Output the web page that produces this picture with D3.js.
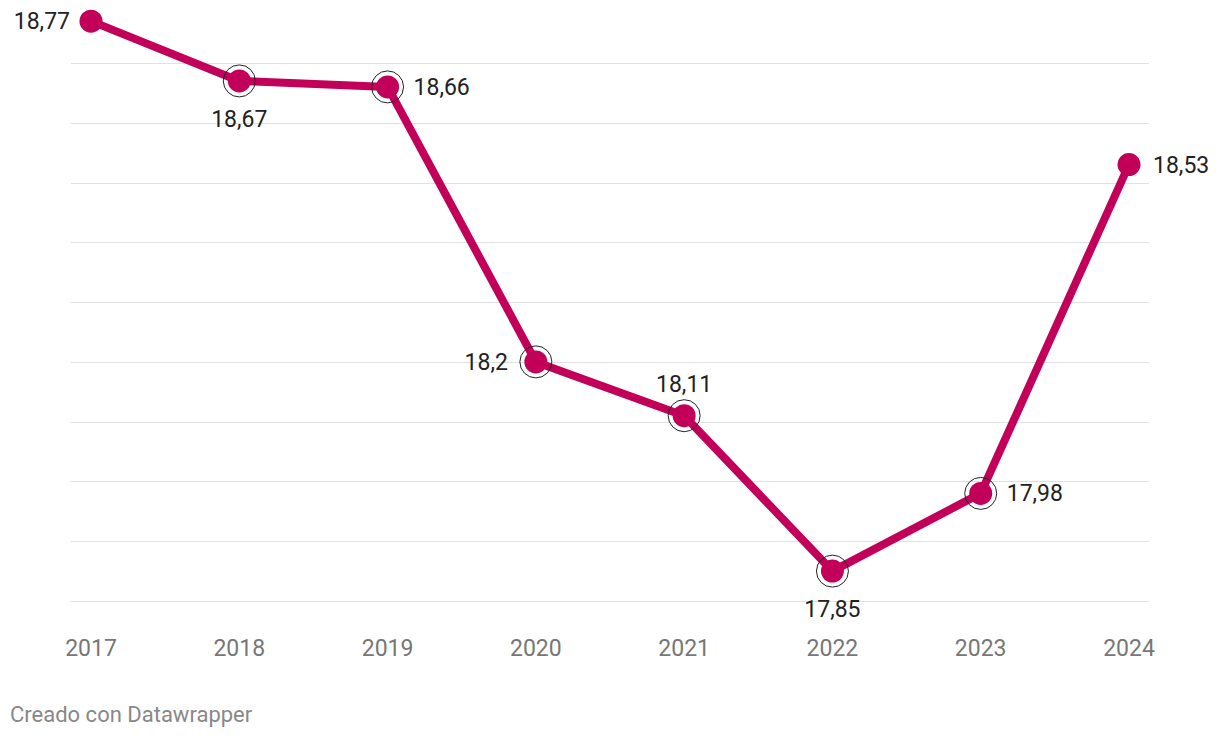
<!DOCTYPE html>
<html><head><meta charset="utf-8">
<script src="https://cdn.jsdelivr.net/npm/d3@7"></script>
<style>body{margin:0;background:#fff;font-family:Roboto,sans-serif}</style>
</head><body><svg id="c" width="1220" height="738"></svg>
<script>
const years = ["2017","2018","2019","2020","2021","2022","2023","2024"];
const values = [18.77, 18.67, 18.66, 18.2, 18.11, 17.85, 17.98, 18.53];
const labelPos = ["left","below","right","left","above","below","right","right"];
const ringed = [false,true,true,true,true,true,true,false];
const gridTicks = [17.8,17.9,18.0,18.1,18.2,18.3,18.4,18.5,18.6,18.7];

const svg = d3.select("#c");
const x = d3.scalePoint().domain(years).range([91,1129]);
const y = d3.scaleLinear().domain([17.8,18.7]).range([601,63]);
const color = "#c2005a";

svg.append("g").selectAll("line").data(gridTicks).join("line")
  .attr("x1",71).attr("x2",1149).attr("y1",d=>Math.round(y(d))+0.5).attr("y2",d=>Math.round(y(d))+0.5)
  .attr("stroke","#e1e1e1").attr("stroke-width",1);

svg.append("g").selectAll("text").data(years).join("text")
  .attr("x",d=>x(d)).attr("y",656).attr("text-anchor","middle")
  .attr("font-size",23).attr("fill","#777").text(d=>d);

const data = years.map((yr,i)=>({yr,v:values[i],pos:labelPos[i],ring:ringed[i]}));
svg.append("path").datum(data)
  .attr("d",d3.line().x(d=>x(d.yr)).y(d=>y(d.v)))
  .attr("fill","none").attr("stroke",color).attr("stroke-width",8).attr("stroke-linejoin","round");

svg.append("g").selectAll("circle").data(data.filter(d=>d.ring)).join("circle")
  .attr("cx",d=>x(d.yr)).attr("cy",d=>y(d.v)).attr("r",16)
  .attr("fill","none").attr("stroke","#222").attr("stroke-width",1);
svg.append("g").selectAll("circle").data(data).join("circle")
  .attr("cx",d=>x(d.yr)).attr("cy",d=>y(d.v)).attr("r",11.5).attr("fill",color);

const fmt = v => String(v).replace(".",",");
svg.append("g").selectAll("text").data(data).join("text")
  .attr("x",d=> d.pos==="left"? x(d.yr)-(d.ring?28:21) : d.pos==="right"? x(d.yr)+(d.ring?26:24) : x(d.yr))
  .attr("y",d=> d.pos==="below"? y(d.v)+46 : d.pos==="above"? y(d.v)-24 : y(d.v)+8)
  .attr("text-anchor",d=> d.pos==="left"?"end": d.pos==="right"?"start":"middle")
  .attr("font-size",23).attr("fill","#222").text(d=>fmt(d.v));

svg.append("text").attr("x",10).attr("y",722).attr("font-size",22).attr("fill","#888").text("Creado con Datawrapper");
</script></body></html>
